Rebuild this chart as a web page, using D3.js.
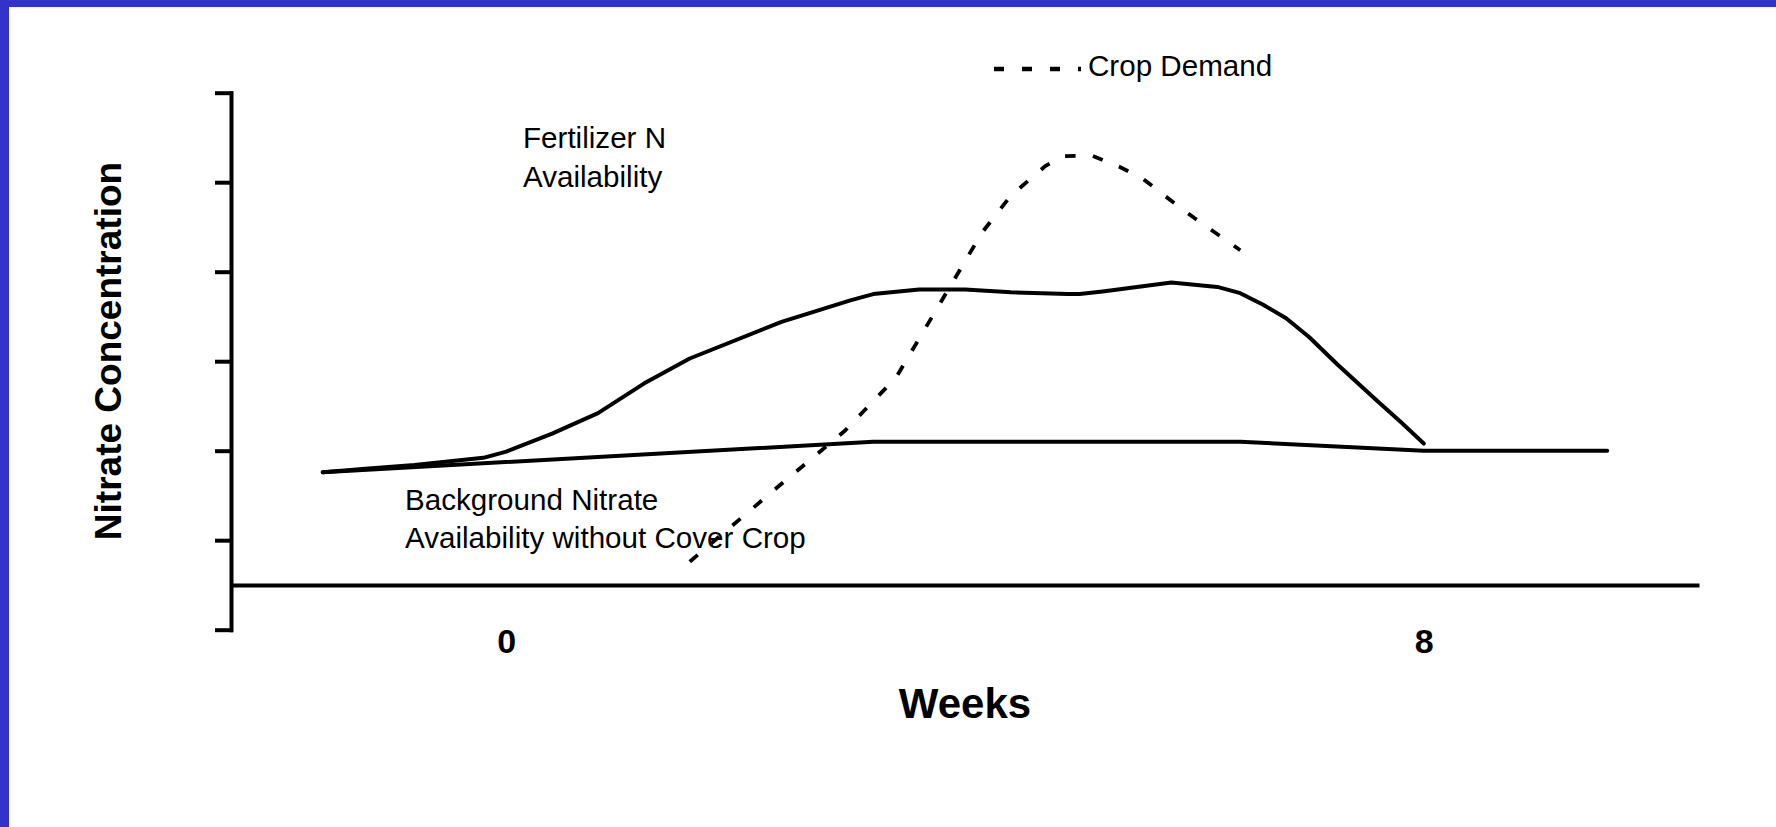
<!DOCTYPE html>
<html>
<head>
<meta charset="utf-8">
<script src="https://cdn.jsdelivr.net/npm/d3@7"></script>
<style>
  html, body { margin: 0; padding: 0; background: #fff; }
  svg { display: block; }
  text { font-family: "Liberation Sans", Arial, sans-serif; fill: #000; }
</style>
</head>
<body>
<svg id="chart" width="1776" height="827"></svg>
<script>
// ---- data ----
const fertWeeks  = [-1.6, -1.2, -0.8, -0.2, 0, 0.4, 0.8, 1.2, 1.6, 2.4, 3.0, 3.2, 3.6, 4.0, 4.4, 4.9, 5.0, 5.2, 5.8, 6.2, 6.4, 6.6, 6.8, 7.0, 7.25, 7.6, 7.8, 8.0];
const fertValues = [1.76, 1.80, 1.84, 1.92, 1.99, 2.19, 2.42, 2.75, 3.03, 3.44, 3.68, 3.75, 3.80, 3.80, 3.77, 3.75, 3.75, 3.78, 3.88, 3.83, 3.76, 3.63, 3.48, 3.27, 2.96, 2.55, 2.32, 2.08];

const bgWeeks  = [-1.6, 3.2, 6.4, 8.0, 9.6];
const bgValues = [1.76, 2.10, 2.10, 2.0, 2.0];

const cropWeeks  = [1.6, 2.4, 2.95, 3.4, 3.65, 4.15, 4.4, 4.7, 4.85, 5.1, 5.35, 5.55, 5.75, 6.0, 6.4];
const cropValues = [0.76, 1.63, 2.22, 2.82, 3.36, 4.44, 4.85, 5.18, 5.29, 5.30, 5.17, 5.04, 4.84, 4.6, 4.24];

const xTickValues = [0, 8];
const xTickLabels = ["0", "8"];
const yTickValues = [0, 1, 2, 3, 4, 5, 6];
const baselineValue = 0.5;

const xTitle = "Weeks";
const yTitle = "Nitrate Concentration";
const legendLabel = "Crop Demand";
const fertLabel = ["Fertilizer N", "Availability"];
const bgLabel = ["Background Nitrate", "Availability without Cover Crop"];

// ---- chart ----
const svg = d3.select("#chart");
const W = 1776, H = 827;

svg.append("rect").attr("x", 0).attr("y", 0).attr("width", W).attr("height", H).attr("fill", "#ffffff");
// blue frame (top and left)
svg.append("rect").attr("x", 0).attr("y", 0).attr("width", W).attr("height", 7).attr("fill", "#3333cc");
svg.append("rect").attr("x", 0).attr("y", 0).attr("width", 9).attr("height", H).attr("fill", "#3333cc");

const x = d3.scaleLinear().domain([-2.4, 10.4]).range([231, 1699]);
const y = d3.scaleLinear().domain([0, 6]).range([629.7, 92.7]);

// y axis
const yAxis = svg.append("g")
  .attr("transform", `translate(${x(-2.4)},0)`)
  .call(d3.axisLeft(y).tickValues(yTickValues).tickSize(14).tickSizeOuter(0).tickFormat(""));
yAxis.select(".domain").attr("stroke", "#000").attr("stroke-width", 4).attr("stroke-linecap", "square");
yAxis.selectAll(".tick line").attr("stroke", "#000").attr("stroke-width", 4).attr("stroke-linecap", "square");

// x axis (baseline)
const xAxis = svg.append("g")
  .attr("transform", `translate(0,${y(baselineValue)})`)
  .call(d3.axisBottom(x).tickValues(xTickValues).tickSize(0).tickSizeOuter(0).tickPadding(44)
        .tickFormat((d, i) => xTickLabels[i]));
xAxis.select(".domain").attr("stroke", "#000").attr("stroke-width", 4);
xAxis.selectAll(".tick text")
  .attr("font-family", "\"Liberation Sans\", Arial, sans-serif")
  .attr("font-size", 34).attr("font-weight", "bold").attr("fill", "#000");

// axis titles
svg.append("text")
  .attr("x", 965).attr("y", 718)
  .attr("text-anchor", "middle")
  .attr("font-size", 42).attr("font-weight", "bold")
  .text(xTitle);

svg.append("text")
  .attr("transform", "translate(121,351) rotate(-90)")
  .attr("text-anchor", "middle")
  .attr("font-size", 37).attr("font-weight", "bold")
  .text(yTitle);

// lines
const line = d3.line().x(d => x(d[0])).y(d => y(d[1])).curve(d3.curveLinear);
const fert = fertWeeks.map((w, i) => [w, fertValues[i]]);
const bg = bgWeeks.map((w, i) => [w, bgValues[i]]);
const crop = cropWeeks.map((w, i) => [w, cropValues[i]]);

svg.append("path").datum(bg).attr("d", line)
  .attr("fill", "none").attr("stroke", "#000").attr("stroke-width", 4)
  .attr("stroke-linejoin", "round").attr("stroke-linecap", "round");
svg.append("path").datum(fert).attr("d", line)
  .attr("fill", "none").attr("stroke", "#000").attr("stroke-width", 4)
  .attr("stroke-linejoin", "round").attr("stroke-linecap", "round");
svg.append("path").datum(crop).attr("d", line)
  .attr("fill", "none").attr("stroke", "#000").attr("stroke-width", 3.8)
  .attr("stroke-dasharray", "10.5,17.5");

// legend
svg.append("line")
  .attr("x1", 994).attr("x2", 1081).attr("y1", 69).attr("y2", 69)
  .attr("stroke", "#000").attr("stroke-width", 4.5).attr("stroke-dasharray", "10,18");
svg.append("text").attr("x", 1088).attr("y", 76)
  .attr("font-size", 29.6).text(legendLabel);

// annotations
svg.append("text").attr("x", 523).attr("y", 148).attr("font-size", 29.6).text(fertLabel[0]);
svg.append("text").attr("x", 523).attr("y", 187).attr("font-size", 29.6).text(fertLabel[1]);
svg.append("text").attr("x", 405).attr("y", 510).attr("font-size", 29.6).text(bgLabel[0]);
svg.append("text").attr("x", 405).attr("y", 548).attr("font-size", 29.6).text(bgLabel[1]);
</script>
</body>
</html>
